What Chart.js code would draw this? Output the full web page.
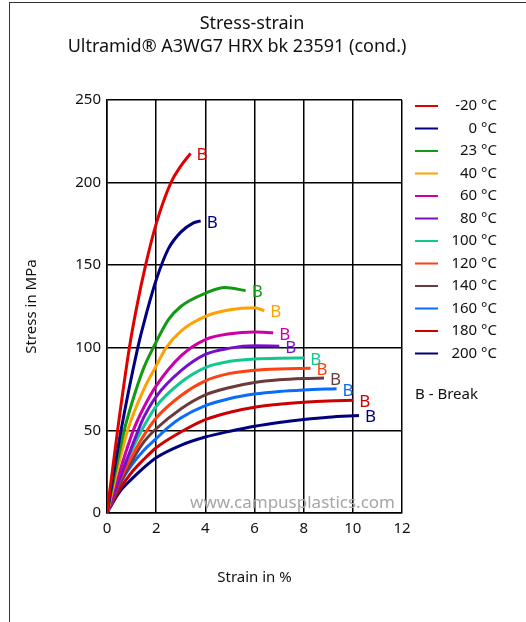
<!DOCTYPE html>
<html>
<head>
<meta charset="utf-8">
<script src="https://cdn.jsdelivr.net/npm/chart.js@4.4.0/dist/chart.umd.min.js"></script>
<style>
  body { margin:0; background:#fff; }
  #wrap { position:relative; width:526px; height:622px; overflow:hidden; }
  #frame { position:absolute; left:9px; top:2px; width:600px; height:700px; border-left:1.5px solid #333; border-top:1.5px solid #333; }
  #wrap canvas { position:absolute; left:0; top:0; }
</style>
</head>
<body>
<div id="wrap">
  <div id="frame"></div>
  <canvas id="ssChart" width="526" height="622"></canvas>
</div>
<script>
// temperatures (legend order) and curves as [strain %, stress MPa]
const temps = ['-20 °C', '0 °C', '23 °C', '40 °C', '60 °C', '80 °C', '100 °C', '120 °C', '140 °C', '160 °C', '180 °C', '200 °C'];
const colors = ['#e00000', '#000080', '#129a12', '#ffa200', '#cc00a8', '#7410cc', '#10c890', '#ff4010', '#6b3a3a', '#0a6cf8', '#cc0000', '#00007f'];

const cM20 = [[0,0],[0.43,50],[0.91,100],[1.2,124],[1.57,150],[2,175],[2.6,200],[3,210],[3.4,217.7]];
const c0   = [[0,0],[0.57,50],[1.25,100],[1.5,115],[2,141],[2.5,160],[3,170],[3.5,175.5],[3.81,176.8]];
const c23  = [[0,0],[0.7,50],[1,66],[1.5,88],[1.88,100],[2.5,117],[3,125],[4,133],[4.8,136.5],[5.64,134.6]];
const c40  = [[0,0],[0.84,50],[1.5,75],[2,89],[2.4,100],[3,110],[4,119],[5,123],[6,124.2],[6.4,122.5]];
const c60  = [[0,0],[1.07,50],[1.5,64],[2,77],[3,95],[4,105],[5,108.5],[6,109.6],[6.76,109.1]];
const c80  = [[0,0],[1.27,50],[1.5,58],[2,70.5],[3,86],[4,96],[5,99.8],[6,101.2],[7.01,101]];
const c100 = [[0,0],[0.5,22],[1,38],[1.5,52.5],[2,64.5],[3,79],[4,88],[5,91.8],[6,93.2],[7,93.7],[8.02,93.8]];
const c120 = [[0,0],[0.5,19],[1,34],[1.5,47],[2,57.5],[3,71],[4,80],[5,84.5],[6,86.4],[7,87.2],[8.28,87.6]];
const c140 = [[0,0],[0.5,17],[1.07,33],[1.5,43],[2,51],[3,63],[4,71.5],[5,76],[6,79],[7,80.6],[8,81.4],[8.83,81.7]];
const c160 = [[0,0],[0.5,17],[1,29],[1.5,38],[2,45],[2.5,52],[3,57.5],[4,65],[5,69.3],[6,72],[7,73.6],[8,74.5],[9.34,75.2]];
const c180 = [[0,0],[0.5,14],[1,24.5],[1.5,32.5],[2,39.5],[3,49],[4,56.5],[5,61],[6,64],[7,65.8],[8,67],[9,67.8],[10.02,68.2]];
const c200 = [[0,0],[0.5,12.5],[1,20.5],[1.5,27.5],[2,33.5],[3,41],[4,46],[5,49.5],[6,52.5],[7,54.8],[8,56.6],[9,58],[10.25,59]];
const curves = [cM20, c0, c23, c40, c60, c80, c100, c120, c140, c160, c180, c200];

const FONT = "'Noto Sans', 'Open Sans', sans-serif";
Chart.defaults.font.family = FONT;
Chart.defaults.color = '#111';

const datasets = curves.map((c, i) => ({
  label: temps[i],
  data: c.map(p => ({x: p[0], y: p[1]})),
  borderColor: colors[i],
  backgroundColor: colors[i],
  borderWidth: 3,
  showLine: true,
  pointRadius: 0,
  cubicInterpolationMode: 'monotone'
}));

const overlay = {
  id: 'overlay',
  afterDatasetsDraw(chart) {
    const ctx = chart.ctx;
    ctx.save();
    // break markers
    ctx.font = "17px " + FONT;
    ctx.textAlign = 'left';
    ctx.textBaseline = 'middle';
    chart.data.datasets.forEach((ds, i) => {
      const pts = chart.getDatasetMeta(i).data;
      const last = pts[pts.length - 1];
      ctx.fillStyle = ds.borderColor;
      ctx.fillText('B', last.x + 6, last.y + 2);
    });
    // watermark
    ctx.fillStyle = '#a6a6a6';
    ctx.textAlign = 'right';
    ctx.fillText('www.campusplastics.com', 395, 503);
    ctx.restore();
  },
  afterDraw(chart) {
    const ctx = chart.ctx;
    ctx.save();
    ctx.fillStyle = '#111';
    ctx.textBaseline = 'middle';
    ctx.textAlign = 'center';
    ctx.font = "18px " + FONT;
    ctx.fillText('Stress-strain', 252, 24);
    ctx.fillText('Ultramid® A3WG7 HRX bk 23591 (cond.)', 237, 47);
    // side legend
    ctx.font = "15px " + FONT;
    chart.data.datasets.forEach((ds, i) => {
      const y = 106 + i * 22.5;
      ctx.strokeStyle = ds.borderColor;
      ctx.lineWidth = 2;
      ctx.beginPath(); ctx.moveTo(415, y); ctx.lineTo(438, y); ctx.stroke();
      ctx.textAlign = 'right';
      ctx.fillText(ds.label, 497, y);
    });
    ctx.textAlign = 'left';
    ctx.fillText('B - Break', 415, 395);
    ctx.restore();
  }
};

new Chart(document.getElementById('ssChart'), {
  type: 'scatter',
  data: { datasets },
  plugins: [overlay],
  options: {
    responsive: false,
    animation: false,
    layout: { padding: { top: 100, right: 124, left: 0, bottom: 0 } },
    plugins: { legend: { display: false }, tooltip: { enabled: false } },
    scales: {
      x: {
        type: 'linear', min: 0, max: 12,
        afterFit: s => { s.height = 109; },
        ticks: { stepSize: 2, font: { size: 15 }, padding: 7, color: '#111' },
        grid: { color: '#000', lineWidth: 1.5, drawTicks: false },
        border: { color: '#000', width: 1.5 },
        title: { display: true, text: 'Strain in %', font: { size: 15 }, padding: { top: 0, bottom: 35 }, color: '#111' }
      },
      y: {
        type: 'linear', min: 0, max: 250,
        afterFit: s => { s.width = 107; },
        ticks: { stepSize: 50, font: { size: 15 }, padding: 6, color: '#111' },
        grid: { color: '#000', lineWidth: 1.5, drawTicks: false },
        border: { color: '#000', width: 1.5 },
        title: { display: true, text: 'Stress in MPa', font: { size: 15 }, padding: { top: 23, bottom: 0 }, color: '#111' }
      }
    }
  }
});
</script>
</body>
</html>
